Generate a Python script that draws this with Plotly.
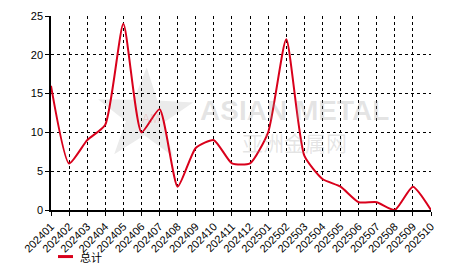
import math
import plotly.graph_objects as go

months = ["202401", "202402", "202403", "202404", "202405", "202406", "202407",
          "202408", "202409", "202410", "202411", "202412", "202501", "202502",
          "202503", "202504", "202505", "202506", "202507", "202508", "202509",
          "202510"]
total = [16, 6, 9, 11, 24, 10, 13, 3, 8, 9, 6, 6, 10, 22, 7, 4, 3, 1, 1, 0, 3, 0]
series_name = "总计"
y_ticks = [0, 5, 10, 15, 20, 25]

W, H = 466, 272
L, R, T, B = 51, 35, 10, 62
pw, ph = W - L - R, H - T - B


def px(x):
    return (x - L) / pw


def py(y):
    return (H - B - y) / ph


fig = go.Figure()
fig.add_trace(go.Scatter(
    x=list(range(len(months))), y=total, mode="lines", name=series_name,
    line=dict(color="#d9001b", width=2, shape="spline", smoothing=0.55),
    showlegend=False, hoverinfo="skip"))

# watermark star
cx, cy, ro, ri = 145, 113, 50, 20
pts = []
for k in range(10):
    ang = math.radians(-90 + 36 * k + 2)
    r = ro if k % 2 == 0 else ri
    pts.append((px(cx + r * math.cos(ang)), py(cy + r * math.sin(ang))))
path = "M " + " L ".join(f"{a:.4f},{b:.4f}" for a, b in pts) + " Z"

shapes = [
    dict(type="path", xref="paper", yref="paper", path=path,
         fillcolor="#ebebeb", line=dict(width=0), layer="below"),
    dict(type="line", xref="paper", yref="paper", x0=px(58), x1=px(73),
         y0=py(258), y1=py(258), line=dict(color="#d9001b", width=3)),
]

annotations = [
    dict(text="<b>ASIAN METAL</b>", xref="paper", yref="paper", x=px(294), y=py(107),
         showarrow=False, font=dict(family="Arial", size=28, color="rgba(150,150,150,0.25)")),
    dict(text="亚洲金属网", xref="paper", yref="paper", x=px(294), y=py(140),
         showarrow=False, font=dict(family="Noto Sans CJK SC", size=21, color="rgba(150,150,150,0.25)")),
    dict(text="AM", xref="paper", yref="paper", x=px(140), y=py(116),
         showarrow=False, font=dict(family="Arial", size=12, color="rgba(230,120,120,0.25)")),
    dict(text=series_name, xref="paper", yref="paper", x=px(78), y=py(258),
         xanchor="left", yanchor="middle", showarrow=False,
         font=dict(family="Noto Sans CJK SC", size=11, color="#000")),
]

fig.update_layout(
    width=W, height=H, margin=dict(l=L, r=R, t=T, b=B, pad=0),
    paper_bgcolor="white", plot_bgcolor="white",
    font=dict(family="Arial, Liberation Sans", size=11, color="#000"),
    shapes=shapes, annotations=annotations, showlegend=False,
    xaxis=dict(tickmode="array", tickvals=list(range(len(months))), ticktext=months,
               range=[0, len(months) - 1], tickangle=-45, showgrid=True,
               gridcolor="#000", griddash="dot", gridwidth=1,
               showline=True, linecolor="#000", linewidth=1.5,
               ticks="outside", ticklen=4, tickcolor="#000", zeroline=False,
               fixedrange=True),
    yaxis=dict(range=[0, 25], tickvals=y_ticks, showgrid=True,
               gridcolor="#000", griddash="dot", gridwidth=1,
               showline=True, linecolor="#000", linewidth=1.5,
               ticks="outside", ticklen=4, tickcolor="#000", zeroline=False,
               fixedrange=True),
)

fig.write_html("out.html")
